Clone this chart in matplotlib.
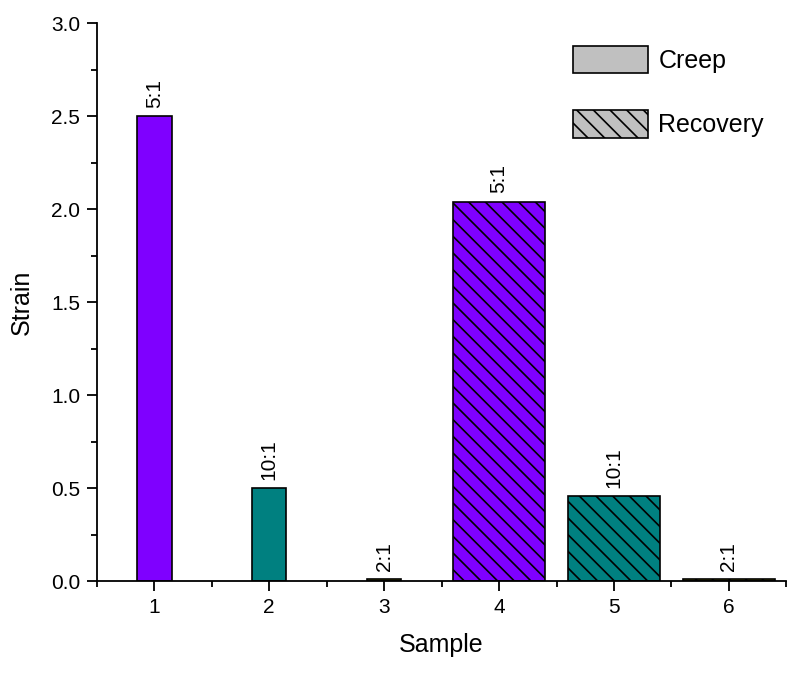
import numpy as np
import matplotlib.pyplot as plt
from matplotlib.patches import Patch
from matplotlib.ticker import MultipleLocator

plt.rcParams['font.family'] = ['Liberation Sans', 'DejaVu Sans']
plt.rcParams['hatch.linewidth'] = 1.2

samples = [1, 2, 3, 4, 5, 6]
strain = [2.50, 0.50, 0.01, 2.04, 0.455, 0.01]
ratios = ['5:1', '10:1', '2:1', '5:1', '10:1', '2:1']
widths = [0.3, 0.3, 0.3, 0.8, 0.8, 0.8]
colors = ['#7F00FF', '#008080', '#808000', '#7F00FF', '#008080', '#808000']
hatches = ['', '', '', '\\\\', '\\\\', '\\\\']

fig = plt.figure(figsize=(8, 6.78), dpi=100)
ax = fig.add_axes([0.121, 0.143, 0.862, 0.823])

for x, y, w, c, h, r in zip(samples, strain, widths, colors, hatches, ratios):
    ax.bar(x, y, width=w, color=c, edgecolor='black', linewidth=1.2, hatch=h)
    ax.text(x, y + 0.045, r, rotation=90, ha='center', va='bottom', fontsize=15)

ax.set_xlim(0.5, 6.5)
ax.set_ylim(0, 3.0)
ax.set_xticks(samples)
ax.xaxis.set_minor_locator(MultipleLocator(0.5))
ax.yaxis.set_major_locator(MultipleLocator(0.5))
ax.yaxis.set_minor_locator(MultipleLocator(0.25))
ax.yaxis.set_major_formatter(plt.FormatStrFormatter('%.1f'))
ax.tick_params(which='major', direction='out', length=7, width=1.3, labelsize=15, pad=5)
ax.tick_params(which='minor', direction='out', length=4, width=1.3)
for s in ['top', 'right']:
    ax.spines[s].set_visible(False)
for s in ['left', 'bottom']:
    ax.spines[s].set_linewidth(1.3)

ax.set_xlabel('Sample', fontsize=18, labelpad=12)
ax.set_ylabel('Strain', fontsize=18, labelpad=12)

handles = [Patch(facecolor='#c0c0c0', edgecolor='black', linewidth=1.2, label='Creep'),
           Patch(facecolor='#c0c0c0', edgecolor='black', linewidth=1.2, hatch='\\\\', label='Recovery')]
ax.legend(handles=handles, loc='upper right', bbox_to_anchor=(1.0, 1.0), frameon=False,
          fontsize=18, handlelength=3.0, handleheight=1.3, labelspacing=1.5, handletextpad=0.4)

fig.savefig('out.png', dpi=100)
